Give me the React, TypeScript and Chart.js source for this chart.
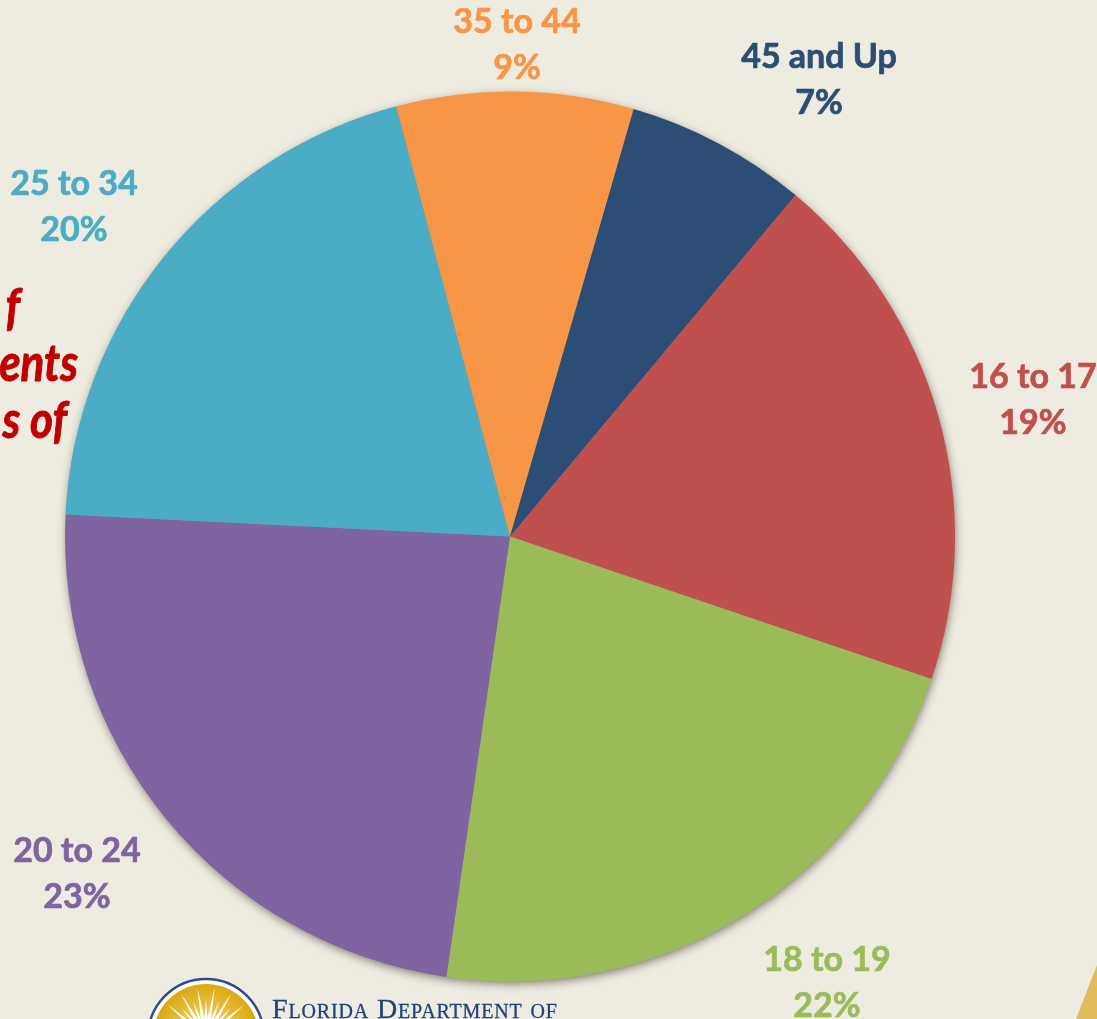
import React, { useEffect, useRef } from "react";
import { Chart, registerables } from "chart.js";

Chart.register(...registerables);

const categories = ["16 to 17", "18 to 19", "20 to 24", "25 to 34", "35 to 44", "45 and Up"];
const labelPercents = ["19%", "22%", "23%", "20%", "9%", "7%"];
const values = [19.1, 22.1, 23.5, 20.1, 8.6, 6.6];
const colors = ["#C0504D", "#9BBB59", "#8064A2", "#4BACC6", "#F79646", "#2C4D75"];
const labelCenters = [
  [1033, 400],
  [827, 983],
  [77, 874],
  [74, 207],
  [517, 45],
  [819, 80],
];
const clippedNote = [
  { text: "f", right: 20, baseline: 325 },
  { text: "ents", right: 78, baseline: 381 },
  { text: "s of", right: 67, baseline: 438 },
];
const BG = "#EEEBE0";

const decorations = {
  id: "decorations",
  beforeDatasetsDraw(chart: any) {
    const ctx = chart.ctx as CanvasRenderingContext2D;
    const arc = chart.getDatasetMeta(0).data[0];
    ctx.save();
    ctx.shadowColor = "rgba(60,50,40,0.65)";
    ctx.shadowBlur = 10;
    ctx.shadowOffsetX = 1;
    ctx.shadowOffsetY = 3;
    ctx.fillStyle = "#8a8a80";
    ctx.beginPath();
    ctx.arc(arc.x, arc.y, arc.outerRadius - 1, 0, Math.PI * 2);
    ctx.fill();
    ctx.restore();
  },
  afterDraw(chart: any) {
    const ctx = chart.ctx as CanvasRenderingContext2D;
    ctx.save();
    // slice labels
    ctx.textAlign = "center";
    ctx.textBaseline = "middle";
    ctx.font = 'bold 34px Lato, "Open Sans", sans-serif';
    ctx.lineWidth = 0.7;
    ctx.lineJoin = "round";
    categories.forEach((c, i) => {
      const [x, y] = labelCenters[i];
      ctx.fillStyle = colors[i];
      ctx.strokeStyle = colors[i];
      ctx.fillText(c, x, y - 23);
      ctx.strokeText(c, x, y - 23);
      ctx.fillText(labelPercents[i], x, y + 23);
      ctx.strokeText(labelPercents[i], x, y + 23);
    });
    // clipped red note
    ctx.textAlign = "right";
    ctx.textBaseline = "alphabetic";
    ctx.fillStyle = "#C00000";
    ctx.strokeStyle = "#C00000";
    ctx.lineWidth = 0.8;
    ctx.font = 'italic bold 44px Lato, "Open Sans", sans-serif';
    clippedNote.forEach((n) => {
      ctx.save();
      ctx.translate(n.right, n.baseline);
      ctx.scale(1, 1.18);
      ctx.fillText(n.text, 0, 0);
      ctx.strokeText(n.text, 0, 0);
      ctx.restore();
    });
    // gold triangle, bottom right
    ctx.fillStyle = "#E0BC5E";
    ctx.beginPath();
    ctx.moveTo(1097, 965);
    ctx.lineTo(1076, 1019);
    ctx.lineTo(1097, 1019);
    ctx.closePath();
    ctx.fill();
    // seal
    const sx = 206, sy = 1037;
    ctx.beginPath();
    ctx.arc(sx, sy, 58, 0, Math.PI * 2);
    ctx.fillStyle = "#FFFFFF";
    ctx.fill();
    ctx.lineWidth = 2.5;
    ctx.strokeStyle = "#2F4B8F";
    ctx.stroke();
    const grad = ctx.createRadialGradient(sx, sy, 10, sx, sy, 54);
    grad.addColorStop(0, "#F3D468");
    grad.addColorStop(1, "#D9A80F");
    ctx.beginPath();
    ctx.arc(sx, sy, 53, 0, Math.PI * 2);
    ctx.fillStyle = grad;
    ctx.fill();
    ctx.fillStyle = "#FFFFFF";
    for (let a = -160; a <= -20; a += 10) {
      const r = (a * Math.PI) / 180;
      const len = a % 20 === 0 ? 50 : 38;
      const n = r + Math.PI / 2;
      ctx.beginPath();
      ctx.moveTo(sx + Math.cos(n) * 3, sy + Math.sin(n) * 3);
      ctx.lineTo(sx + Math.cos(r) * len, sy + Math.sin(r) * len);
      ctx.lineTo(sx - Math.cos(n) * 3, sy - Math.sin(n) * 3);
      ctx.closePath();
      ctx.fill();
    }
    // department text
    ctx.textAlign = "left";
    ctx.fillStyle = "#23407F";
    ctx.strokeStyle = "#23407F";
    ctx.lineWidth = 0.3;
    ctx.font = 'small-caps 28px "Liberation Serif", serif';
    (ctx as any).letterSpacing = "0.85px";
    ctx.fillText("Florida Department of", 272, 1018);
    ctx.strokeText("Florida Department of", 272, 1018);
    ctx.restore();
  },
};

export default function App() {
  const ref = useRef<HTMLCanvasElement>(null);
  useEffect(() => {
    document.body.style.margin = "0";
    document.body.style.overflow = "hidden";
    const chart = new Chart(ref.current!, {
      type: "pie",
      data: {
        labels: categories,
        datasets: [
          {
            data: values,
            backgroundColor: colors,
            borderWidth: 0,
          },
        ],
      },
      options: {
        responsive: false,
        animation: false,
        rotation: 39.9,
        layout: { padding: { left: 65, right: 142, top: 91, bottom: 37 } },
        plugins: { legend: { display: false }, tooltip: { enabled: false } },
      },
      plugins: [decorations],
    });
    return () => chart.destroy();
  }, []);
  return (
    <div style={{ width: 1097, height: 1019, background: BG, overflow: "hidden" }}>
      <canvas ref={ref} width={1097} height={1019} style={{ display: "block" }} />
    </div>
  );
}
